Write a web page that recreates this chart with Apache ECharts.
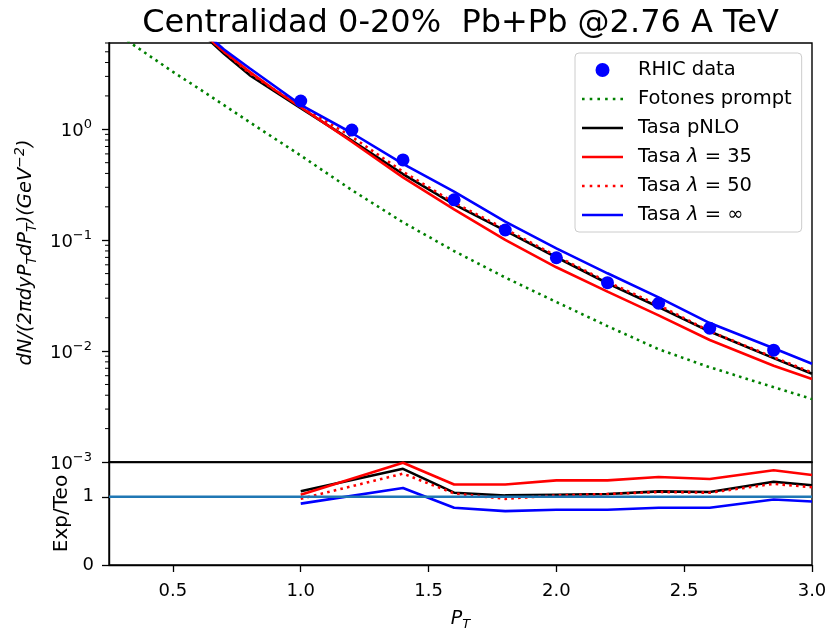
<!DOCTYPE html>
<html>
<head>
<meta charset="utf-8">
<script src="https://cdn.jsdelivr.net/npm/echarts@6/dist/echarts.min.js"></script>
<style>
  html, body { margin: 0; padding: 0; background: #fff; }
  #chart { width: 830px; height: 632px; }
</style>
</head>
<body>
<div id="chart"></div>
<script>
// Transverse momentum grids (GeV)
const ptTheory = [0.6, 0.7, 0.8, 0.9, 1.0, 1.2, 1.4, 1.6, 1.8, 2.0, 2.2, 2.4, 2.6, 2.85, 3.0];
const ptPrompt = [0.3, 0.4, 0.5, 0.6, 0.7, 0.8, 0.9, 1.0, 1.2, 1.4, 1.6, 1.8, 2.0, 2.2, 2.4, 2.6, 2.8, 3.0];
const ptData = [1.0, 1.2, 1.4, 1.6, 1.8, 2.0, 2.2, 2.4, 2.6, 2.85];
const ptRatio = [1.0, 1.4, 1.6, 1.8, 2.0, 2.2, 2.4, 2.6, 2.85, 3.0];

// Measured yields
const rhicData = [1.80, 0.985, 0.529, 0.231, 0.1236, 0.0695, 0.0414, 0.027, 0.0161, 0.0102];

// Prompt photons
const promptYield = [6.8, 4.74, 3.3, 2.34, 1.65, 1.16, 0.82, 0.58, 0.283, 0.145, 0.0798, 0.0461, 0.0277, 0.0168, 0.0104, 0.00714, 0.00514, 0.00369];

// Thermal + prompt rates
const ratePNLO   = [7.8, 4.8, 3.08, 2.19, 1.55, 0.79, 0.395, 0.210, 0.122, 0.0702, 0.0409, 0.0250, 0.0150, 0.00865, 0.00625];
const rateL35    = [8.0, 5.0, 3.3, 2.25, 1.58, 0.773, 0.369, 0.19, 0.1005, 0.057, 0.0344, 0.021, 0.0126, 0.00737, 0.0056];
const rateL50    = [7.9, 5.0, 3.2, 2.25, 1.62, 0.856, 0.415, 0.218, 0.126, 0.072, 0.042, 0.026, 0.0151, 0.0088, 0.0064];
const rateLInf   = [8.3, 5.25, 3.55, 2.43, 1.66, 0.926, 0.487, 0.274, 0.147, 0.0845, 0.0503, 0.0305, 0.0179, 0.0106, 0.00769];

// Exp/Teo ratios
const ratioPNLO = [1.08, 1.41, 1.06, 1.02, 1.03, 1.04, 1.08, 1.07, 1.22, 1.17];
const ratioL35  = [1.03, 1.50, 1.18, 1.18, 1.24, 1.24, 1.29, 1.26, 1.39, 1.32];
const ratioL50  = [0.97, 1.34, 1.05, 0.97, 1.02, 1.04, 1.07, 1.06, 1.19, 1.14];
const ratioLInf = [0.90, 1.13, 0.84, 0.79, 0.81, 0.81, 0.84, 0.84, 0.96, 0.93];

// Axis ticks
const xTicks = [0.5, 1.0, 1.5, 2.0, 2.5, 3.0];
const ratioTicks = [0, 1];
const logMinorTicks = [0.002, 0.003, 0.004, 0.005, 0.006, 0.007, 0.008, 0.009,
                       0.02, 0.03, 0.04, 0.05, 0.06, 0.07, 0.08, 0.09,
                       0.2, 0.3, 0.4, 0.5, 0.6, 0.7, 0.8, 0.9,
                       2, 3, 4, 5, 6];

const FONT = 'DejaVu Sans';
const X_MIN = 0.25, X_MAX = 3.0;

const zip = (xs, ys) => xs.map((x, i) => [x, ys[i]]);

const lineSeries = (name, xs, ys, color, dash, idx, z) => ({
  name: name,
  type: 'line',
  xAxisIndex: idx, yAxisIndex: idx,
  data: zip(xs, ys),
  showSymbol: false, symbol: 'none',
  lineStyle: { color: color, width: 2.6, type: dash || 'solid', cap: 'butt' },
  itemStyle: { color: color },
  clip: true,
  z: z || 2,
  silent: true,
  animation: false
});

const DOTS = [2.6, 4.2];

// Legend swatches: a solid bar and a row of dots
const ICON_SOLID = 'path://M0,0H41V2.6H0Z';
const ICON_DOTTED = 'path://M0,0h2.6v2.6h-2.6z M7.7,0h2.6v2.6h-2.6z M15.4,0h2.6v2.6h-2.6z M23.1,0h2.6v2.6h-2.6z M30.8,0h2.6v2.6h-2.6z M38.4,0h2.6v2.6h-2.6z';

const legendItems = [
  { name: 'RHIC data', icon: 'circle' },
  { name: 'Fotones prompt', icon: ICON_DOTTED },
  { name: 'Tasa pNLO', icon: ICON_SOLID },
  { name: 'Tasa λ = 35', icon: ICON_SOLID },
  { name: 'Tasa λ = 50', icon: ICON_DOTTED },
  { name: 'Tasa λ = ∞', icon: ICON_SOLID }
];

const chart = echarts.init(document.getElementById('chart'), null, { renderer: 'canvas' });

const option = {
  animation: false,
  backgroundColor: '#ffffff',
  title: {
    text: 'Centralidad 0-20%  Pb+Pb @2.76 A TeV',
    left: 455.5, top: 3, textAlign: 'center',
    textStyle: { fontFamily: FONT, fontSize: 32, fontWeight: 'normal', color: '#000' }
  },
  legend: {
    data: legendItems,
    orient: 'vertical',
    left: 575, top: 53,
    padding: [7, 10, 7, 7],
    itemWidth: 41, itemHeight: 14, itemGap: 9,
    symbolKeepAspect: true,
    borderColor: '#cccccc', borderWidth: 1, borderRadius: 4,
    backgroundColor: 'rgba(255,255,255,0.8)',
    selectedMode: false,
    formatter: function (name) {
      if (name.indexOf('Tasa λ') === 0) {
        return '{n|Tasa }{i|λ}{n|' + name.slice(6) + '}';
      }
      return '{n|' + name + '}';
    },
    textStyle: {
      fontFamily: FONT, fontSize: 19.5, color: '#000', padding: [0, 0, 0, 10],
      rich: {
        n: { fontFamily: FONT, fontSize: 19.5, color: '#000', lineHeight: 22 },
        i: { fontFamily: FONT, fontSize: 19.5, fontStyle: 'italic', color: '#000', lineHeight: 22 }
      }
    }
  },
  grid: [
    { left: 109, top: 43, width: 703, height: 419, show: true, borderColor: '#000', borderWidth: 1.4, backgroundColor: 'transparent' },
    { left: 109, top: 462, width: 703, height: 105, show: true, borderColor: '#000', borderWidth: 1.4, backgroundColor: 'transparent' }
  ],
  xAxis: [
    {
      gridIndex: 0, type: 'value', min: X_MIN, max: X_MAX,
      axisLine: { show: true, lineStyle: { color: '#000', width: 1.4 } },
      axisTick: { show: false }, axisLabel: { show: false }, splitLine: { show: false }
    },
    {
      gridIndex: 1, type: 'value', min: X_MIN, max: X_MAX,
      axisLine: { show: true, onZero: false, lineStyle: { color: '#000', width: 1.4 } },
      axisTick: { show: true, length: 7, customValues: xTicks, lineStyle: { color: '#000', width: 1.3 } },
      axisLabel: {
        show: true, customValues: xTicks, margin: 17,
        fontFamily: FONT, fontSize: 18, color: '#000',
        formatter: v => v.toFixed(1)
      },
      splitLine: { show: false },
      name: '{i|P}{s|T}', nameLocation: 'middle', nameGap: 42,
      nameTextStyle: {
        rich: {
          i: { fontFamily: FONT, fontSize: 19, fontStyle: 'italic', color: '#000', lineHeight: 24, verticalAlign: 'middle' },
          s: { fontFamily: FONT, fontSize: 13, fontStyle: 'italic', color: '#000', lineHeight: 24, verticalAlign: 'bottom' }
        }
      }
    }
  ],
  yAxis: [
    {
      gridIndex: 0, type: 'log', logBase: 10, min: 0.001, max: 6, interval: 1,
      axisLine: { show: true, lineStyle: { color: '#000', width: 1.4 } },
      axisTick: { show: true, length: 7, lineStyle: { color: '#000', width: 1.3 } },
      axisLabel: {
        show: true, margin: 17, showMaxLabel: false,
        formatter: function (v) {
          const e = Math.round(Math.log10(v));
          return '{b|10}{s|' + (e < 0 ? '\u2212' + (-e) : String(e)) + '}';
        },
        rich: {
          b: { fontFamily: FONT, fontSize: 18, color: '#000', lineHeight: 22, verticalAlign: 'bottom' },
          s: { fontFamily: FONT, fontSize: 13, color: '#000', lineHeight: 22, verticalAlign: 'top' }
        }
      },
      splitLine: { show: false },
      minorTick: { show: false },
      name: '{m|dN/(2πdyP}{s|T}{m|dP}{s|T}{m|)(GeV}{p|\u22122}{m|)}',
      nameLocation: 'middle', nameRotate: 90, nameGap: 63,
      nameTextStyle: {
        rich: {
          m: { fontFamily: FONT, fontSize: 19.5, fontStyle: 'italic', color: '#000', lineHeight: 26, verticalAlign: 'middle' },
          s: { fontFamily: FONT, fontSize: 14, fontStyle: 'italic', color: '#000', lineHeight: 26, verticalAlign: 'bottom' },
          p: { fontFamily: FONT, fontSize: 14, fontStyle: 'italic', color: '#000', lineHeight: 26, verticalAlign: 'top' }
        }
      }
    },
    {
      gridIndex: 1, type: 'value', min: 0, max: 1.51,
      axisLine: { show: true, lineStyle: { color: '#000', width: 1.4 } },
      axisTick: { show: true, length: 7, customValues: ratioTicks, lineStyle: { color: '#000', width: 1.3 } },
      axisLabel: {
        show: true, customValues: ratioTicks, margin: 15,
        fontFamily: FONT, fontSize: 18, color: '#000'
      },
      splitLine: { show: false },
      name: 'Exp/Teo', nameLocation: 'middle', nameRotate: 90, nameGap: 37,
      nameTextStyle: { fontFamily: FONT, fontSize: 20, color: '#000' }
    }
  ],
  series: [
    // Minor ticks on the logarithmic axis
    {
      type: 'custom', xAxisIndex: 0, yAxisIndex: 0, silent: true, clip: false, z: 5,
      data: logMinorTicks.map(v => [X_MIN, v]),
      renderItem: function (params, api) {
        const p = api.coord([api.value(0), api.value(1)]);
        return {
          type: 'line',
          shape: { x1: p[0] - 4, y1: p[1], x2: p[0], y2: p[1] },
          style: { stroke: '#000', lineWidth: 1 }
        };
      }
    },
    {
      name: 'RHIC data', type: 'scatter', xAxisIndex: 0, yAxisIndex: 0,
      data: zip(ptData, rhicData), symbol: 'circle', symbolSize: 13,
      itemStyle: { color: '#0000ff', opacity: 1 }, z: 4, silent: true
    },
    lineSeries('Fotones prompt', ptPrompt, promptYield, '#008000', DOTS, 0, 2),
    lineSeries('Tasa pNLO', ptTheory, ratePNLO, '#000000', 'solid', 0, 2),
    lineSeries('Tasa λ = 35', ptTheory, rateL35, '#ff0000', 'solid', 0, 2),
    lineSeries('Tasa λ = 50', ptTheory, rateL50, '#ff0000', DOTS, 0, 3),
    lineSeries('Tasa λ = ∞', ptTheory, rateLInf, '#0000ff', 'solid', 0, 3),

    lineSeries('ratio pNLO', ptRatio, ratioPNLO, '#000000', 'solid', 1, 2),
    lineSeries('ratio 35', ptRatio, ratioL35, '#ff0000', 'solid', 1, 2),
    lineSeries('ratio 50', ptRatio, ratioL50, '#ff0000', DOTS, 1, 2),
    lineSeries('ratio inf', ptRatio, ratioLInf, '#0000ff', 'solid', 1, 2),
    lineSeries('unidad', [X_MIN, X_MAX], [1, 1], '#1f77b4', 'solid', 1, 3)
  ]
};

chart.setOption(option);
</script>
</body>
</html>
